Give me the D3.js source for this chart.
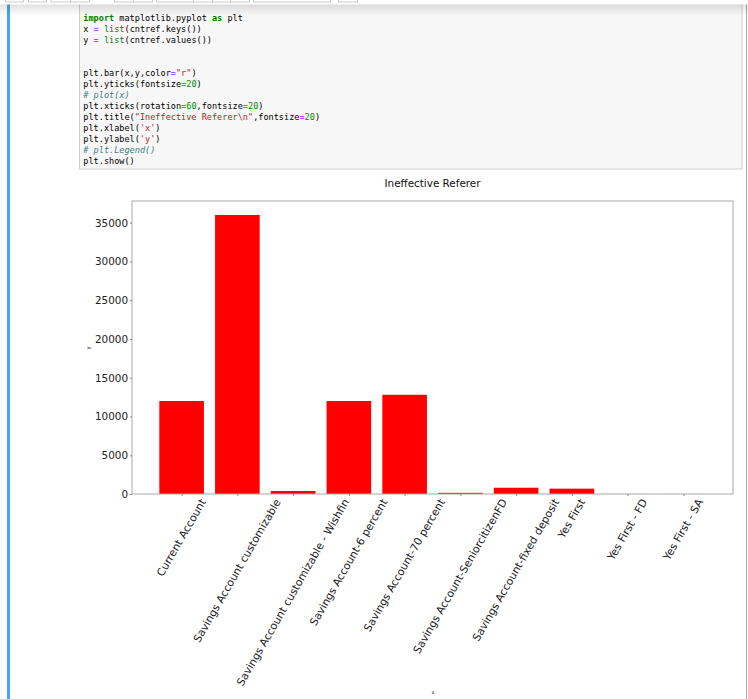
<!DOCTYPE html>
<html>
<head>
<meta charset="utf-8">
<script src="https://cdn.jsdelivr.net/npm/d3@7"></script>
<style>
html,body{margin:0;padding:0;background:#fff;overflow:hidden;}
svg{display:block;}
</style>
</head>
<body>
<svg id="page" width="748" height="699"></svg>
<script>
// ---- chart data ----
const categories = [
  "Current Account",
  "Savings Account customizable",
  "Savings Account customizable - Wishfin",
  "Savings Account-6 percent",
  "Savings Account-70 percent",
  "Savings Account-SeniorcitizenFD",
  "Savings Account-fixed deposit",
  "Yes First",
  "Yes First - FD",
  "Yes First - SA"
];
const values = [12000, 36000, 390, 12000, 12800, 150, 810, 690, 5, 3];
const yTicks = [0, 5000, 10000, 15000, 20000, 25000, 30000, 35000];
const chartTitle = "Ineffective Referer";

// ---- code cell text ----
const codeLines = [
  [["import","kw"],[" matplotlib.pyplot ",""],["as","kw"],[" plt",""]],
  [["x ",""],["=","op"],[" ",""],["list","bi"],["(cntref.keys())",""]],
  [["y ",""],["=","op"],[" ",""],["list","bi"],["(cntref.values())",""]],
  [],
  [],
  [["plt.bar(x,y,color",""],["=","op"],["\"r\"","str"],[")",""]],
  [["plt.yticks(fontsize",""],["=","op"],["20","num"],[")",""]],
  [["# plot(x)","cm"]],
  [["plt.xticks(rotation",""],["=","op"],["60","num"],[",fontsize",""],["=","op"],["20","num"],[")",""]],
  [["plt.title(",""],["\"Ineffective Referer\\n\"","str"],[",fontsize",""],["=","op"],["20","num"],[")",""]],
  [["plt.xlabel(",""],["'x'","str"],[")",""]],
  [["plt.ylabel(",""],["'y'","str"],[")",""]],
  [["# plt.Legend()","cm"]],
  [["plt.show()",""]]
];
const tokenColor = {"":"#000","kw":"#008000","op":"#AA22FF","bi":"#008000","str":"#BA2121","num":"#008800","cm":"#408080"};

const svg = d3.select("#page");

// ---- notebook chrome ----
svg.append("rect").attr("x",79.5).attr("y",-2).attr("width",662.5).attr("height",171)
  .attr("fill","#f7f7f7").attr("stroke","#cfcfcf").attr("stroke-width",1);
svg.append("rect").attr("x",7).attr("y",4).attr("width",3).attr("height",700).attr("fill","#42A5F5");
svg.append("line").attr("x1",746.5).attr("x2",746.5).attr("y1",0).attr("y2",699)
  .attr("stroke","#aaa").attr("stroke-width",1);

const defs = svg.append("defs");
const grad = defs.append("linearGradient").attr("id","shadow").attr("x1",0).attr("y1",0).attr("x2",0).attr("y2",1);
grad.append("stop").attr("offset","0%").attr("stop-color","#000").attr("stop-opacity",0.12);
grad.append("stop").attr("offset","100%").attr("stop-color","#000").attr("stop-opacity",0);
svg.append("rect").attr("x",0).attr("y",0).attr("width",748).attr("height",4.5).attr("fill","#fff");
svg.append("rect").attr("x",0).attr("y",4.5).attr("width",748).attr("height",11).attr("fill","url(#shadow)");
const buttons = [[5,23],[28,46],[50.5,70],[70,89],[114,133],[133,152],[156,193],[193,212],[212,230],[230,249],[253,330],[338,357]];
svg.selectAll("rect.btn").data(buttons).join("rect").attr("class","btn")
  .attr("x",d=>d[0]+0.5).attr("y",-20).attr("width",d=>d[1]-d[0]).attr("height",22)
  .attr("fill","#fff").attr("stroke","#ccc").attr("stroke-width",1);

const code = svg.append("g").attr("font-family","DejaVu Sans Mono, monospace").attr("font-size",8.55);
codeLines.forEach((line,i)=>{
  const t = code.append("text").attr("x",83.3).attr("y",21.4+i*10.95).attr("xml:space","preserve");
  line.forEach(([s,c])=>{
    const sp = t.append("tspan").text(s).attr("fill",tokenColor[c]);
    if(c==="kw") sp.attr("font-weight","bold");
    if(c==="cm") sp.attr("font-style","italic");
  });
});

// ---- chart ----
const fs = 10.4, fsx = 10.75;
const L = 132, R = 733, T = 201, B = 494;
const n = categories.length;
const x = d3.scaleLinear().domain([-0.4 - 0.05*(n-0.2), n-1+0.4 + 0.05*(n-0.2)]).range([L,R]);
const y = d3.scaleLinear().domain([0, d3.max(values)*1.05]).range([B,T]);
const barW = x(0.8) - x(0);

const g = svg.append("g").attr("font-family","DejaVu Sans, sans-serif");

g.selectAll("rect.bar").data(values).join("rect").attr("class","bar")
  .attr("x",(d,i)=>x(i)-barW/2).attr("y",d=>y(d))
  .attr("width",barW).attr("height",d=>B-y(d)).attr("fill","#ff0000");

// frame
g.append("rect").attr("x",L).attr("y",T).attr("width",R-L).attr("height",B-T)
  .attr("fill","none").attr("stroke","#a8a8a8").attr("stroke-width",1);

// y axis
const yAxis = g.append("g").attr("transform",`translate(${L},0)`)
  .call(d3.axisLeft(y).tickValues(yTicks).tickFormat(d3.format("d")).tickSize(2).tickPadding(2));
yAxis.select(".domain").remove();
yAxis.selectAll(".tick line").attr("stroke","#777").attr("stroke-width",0.8);
yAxis.selectAll(".tick text").attr("font-size",fs).attr("font-family","DejaVu Sans, sans-serif").attr("fill","#222");

// x axis
const xAxis = g.append("g").attr("transform",`translate(0,${B})`)
  .call(d3.axisBottom(x).tickValues(d3.range(n)).tickFormat(i=>categories[i]).tickSize(2).tickPadding(2));
xAxis.select(".domain").remove();
xAxis.selectAll(".tick line").attr("stroke","#777").attr("stroke-width",0.8);
const A = 0.76*fsx, D = 0.24*fsx, y0 = 3.6;
const c60 = Math.cos(Math.PI/3), s60 = Math.sin(Math.PI/3);
xAxis.selectAll(".tick text")
  .attr("font-size",fsx).attr("font-family","DejaVu Sans, sans-serif").attr("fill","#222")
  .attr("text-anchor","start").attr("dy",null).attr("y",0).attr("x",0)
  .each(function(){
    const len = this.getComputedTextLength();
    const minX = -s60*A, maxX = c60*len + s60*D;
    const tx = -(minX+maxX)/2;
    const ty = y0 + s60*len + c60*A;
    d3.select(this).attr("transform",`translate(${tx},${ty}) rotate(-60)`);
  });

// title
g.append("text").attr("x",(L+R)/2).attr("y",186.5).attr("text-anchor","middle")
  .attr("font-size",fs).attr("fill","#111").text(chartTitle);

// axis labels
g.append("text").attr("x",433).attr("y",694).attr("text-anchor","middle")
  .attr("font-size",5.2).attr("fill","#222").text("x");
g.append("text").attr("transform","translate(90,348) rotate(-90)").attr("text-anchor","middle")
  .attr("font-size",5.2).attr("fill","#222").text("y");
</script>
</body>
</html>
